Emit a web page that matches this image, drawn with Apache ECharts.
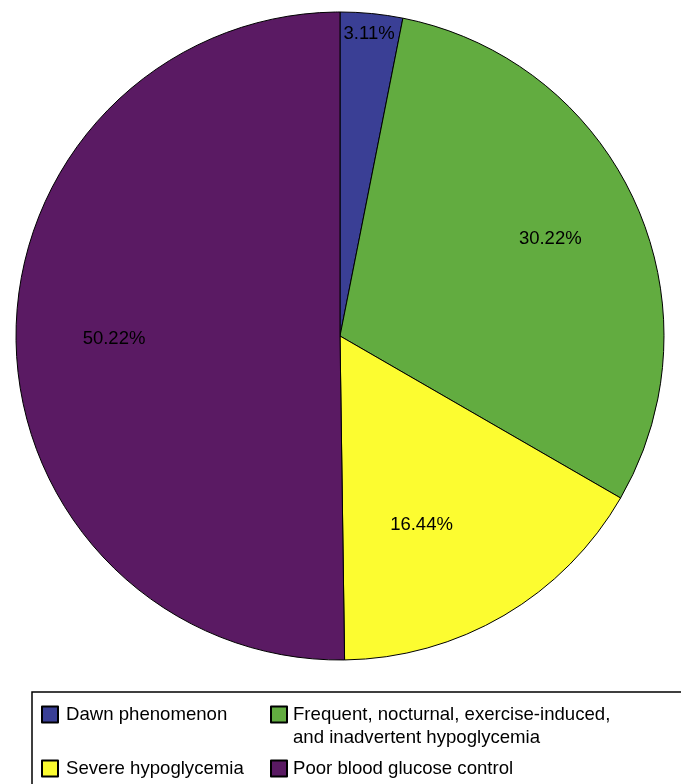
<!DOCTYPE html>
<html><head><meta charset="utf-8">
<script src="https://cdn.jsdelivr.net/npm/echarts@6/dist/echarts.min.js"></script>
<style>html,body{margin:0;padding:0;background:#fff}#c{width:681px;height:784px}</style>
</head><body><div id="c"></div>
<script>
const categories = ['Dawn phenomenon', 'Frequent, nocturnal, exercise-induced, and inadvertent hypoglycemia', 'Severe hypoglycemia', 'Poor blood glucose control'];
const legendLines = ['Frequent, nocturnal, exercise-induced,', 'and inadvertent hypoglycemia'];
const values = [3.11, 30.22, 16.44, 50.22];
const colors = ['#3a3f95', '#62ac40', '#fcfc30', '#5a1a63'];
const labelOffsets = [[13, -138], [60, -29], [-2, 47], [-61, 2]];

const chart = echarts.init(document.getElementById('c'), null, {renderer: 'canvas'});
const font = 'Liberation Sans, Arial, Helvetica, sans-serif';
function legendCfg(extra, pad) {
  return Object.assign({
    orient: 'vertical', padding: 0, itemWidth: 16, itemHeight: 16, icon: 'rect',
    selectedMode: false,
    textStyle: {fontFamily: font, fontSize: 18.6, color: '#000', padding: pad, lineHeight: 23}
  }, extra);
}
chart.setOption({
  animation: false,
  legend: [
    legendCfg({left: 41, top: 703, data: [categories[0]]}, [0, 0, 0, 3]),
    legendCfg({left: 270, top: 703, data: [categories[1]], formatter: () => legendLines[0]}, [0, 0, 0, 1]),
    legendCfg({left: 41, top: 757, data: [categories[2]]}, [0, 0, 0, 3]),
    legendCfg({left: 270, top: 757, data: [categories[3]]}, [0, 0, 0, 1])
  ],
  graphic: [
    {type: 'rect', shape: {x: 32, y: 692, width: 700, height: 140}, style: {fill: 'none', stroke: '#000', lineWidth: 1.5}, silent: true},
    {type: 'text', x: 293, y: 738, style: {text: legendLines[1], fontFamily: font, fontSize: 18.6, fill: '#000', verticalAlign: 'middle', align: 'left'}, silent: true}
  ],
  series: [{
    type: 'pie', center: [340, 336], radius: 324, startAngle: 90, clockwise: true,
    avoidLabelOverlap: false,
    itemStyle: {borderColor: '#000', borderWidth: 1},
    label: {show: true, position: 'inside', formatter: p => p.value.toFixed(2) + '%', fontFamily: font, fontSize: 18.5, color: '#000'},
    labelLine: {show: false},
    emphasis: {disabled: true},
    data: categories.map((n, i) => ({name: n, value: values[i], itemStyle: {color: colors[i]}, label: {offset: labelOffsets[i]}}))
  }]
});
</script></body></html>
